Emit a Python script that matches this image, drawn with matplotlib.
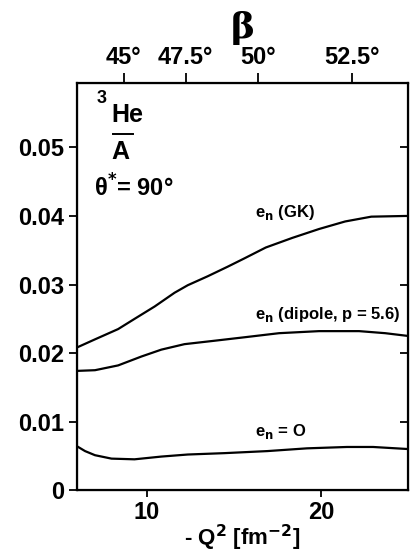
import matplotlib.pyplot as plt
import numpy as np

# -Q^2 [fm^-2] sample positions
q2_gk = [6.07, 7.03, 8.36, 9.31, 10.46, 11.6, 12.36, 13.5, 14.65, 15.6,
         16.84, 18.36, 19.9, 21.4, 22.9, 24.84, 25.0]
a_gk = [0.0209, 0.0220, 0.0235, 0.0250, 0.0268, 0.0288, 0.0299, 0.0312, 0.0326, 0.0338,
        0.0354, 0.0368, 0.0381, 0.0392, 0.0399, 0.0400, 0.0400]

q2_dip = [6.0, 7.03, 8.36, 9.7, 10.84, 12.17, 13.9, 15.6, 17.6, 19.9, 22.2, 23.7, 25.0]
a_dip = [0.0174, 0.0175, 0.0182, 0.0195, 0.0205, 0.0213, 0.0218, 0.0223, 0.0229,
         0.0232, 0.0232, 0.0229, 0.0225]

q2_zero = [6.0, 6.46, 7.03, 7.98, 9.3, 10.84, 12.36, 14.46, 16.93, 19.2, 21.5, 23.0, 25.0]
a_zero = [0.0064, 0.0057, 0.0051, 0.0046, 0.0045, 0.0049, 0.0052, 0.0054, 0.0057,
          0.0061, 0.0063, 0.0063, 0.0060]

yticks = [0, 0.01, 0.02, 0.03, 0.04, 0.05]
ytick_labels = ['0', '0.01', '0.02', '0.03', '0.04', '0.05']
xticks = [10, 20]
xtick_labels = ['10', '20']
beta_q2 = [8.69, 12.23, 16.4, 21.8]
beta_labels = ['45°', '47.5°', '50°', '52.5°']

plt.rcParams['font.family'] = ['Liberation Sans', 'DejaVu Sans']
plt.rcParams['font.weight'] = 'bold'
plt.rcParams['mathtext.default'] = 'bf'

fig = plt.figure(figsize=(4.12, 5.57), dpi=100)
ax = fig.add_axes([0.187, 0.120, 0.803, 0.731])

ax.plot(q2_gk, a_gk, color='black', lw=1.6)
ax.plot(q2_dip, a_dip, color='black', lw=1.6)
ax.plot(q2_zero, a_zero, color='black', lw=1.6)

ax.set_xlim(6, 25)
ax.set_ylim(0, 0.0594)
ax.set_yticks(yticks)
ax.set_yticklabels(ytick_labels, fontsize=17, fontweight='bold')
ax.set_xticks(xticks)
ax.set_xticklabels(xtick_labels, fontsize=17, fontweight='bold')
ax.tick_params(axis='y', which='both', direction='out', length=6, width=1.3, right=True, pad=3)
ax.tick_params(axis='x', direction='out', length=5, width=1.3, pad=3)
for s in ax.spines.values():
    s.set_linewidth(1.6)

# right ticks point inward
for t in ax.yaxis.get_major_ticks():
    t.tick2line.set_marker(0)
    t.tick2line.set_markersize(6)

ax.set_xlabel(r'- Q$^{2}$ [fm$^{-2}$]', fontsize=16, fontweight='bold', labelpad=-1)

top = ax.twiny()
top.set_xlim(ax.get_xlim())
top.set_xticks(beta_q2)
top.set_xticklabels(beta_labels, fontsize=17, fontweight='bold')
top.tick_params(axis='x', direction='out', length=7, width=1.3, pad=3)
top.set_xlabel('β', fontsize=26, fontweight='bold', family='DejaVu Serif', labelpad=6)

# annotations
ax.text(7.1, 0.0572, '3', fontsize=13, fontweight='bold', va='center')
ax.text(7.95, 0.0547, 'He', fontsize=18, fontweight='bold', va='center')
ax.text(7.95, 0.0493, 'A', fontsize=18, fontweight='bold', va='center')
ax.plot([8.05, 9.2], [0.0520, 0.0520], color='black', lw=1.4)
ax.text(7.0, 0.0441, r'θ$^{*}$= 90°', fontsize=17, fontweight='bold', va='center')

ax.text(16.2, 0.0405, r'e$_{n}$ (GK)', fontsize=12, fontweight='bold', va='center')
ax.text(16.2, 0.0256, r'e$_{n}$ (dipole, p = 5.6)', fontsize=12, fontweight='bold', va='center')
ax.text(16.2, 0.0086, r'e$_{n}$ = O', fontsize=12, fontweight='bold', va='center')

fig.savefig('out.png', dpi=100)
